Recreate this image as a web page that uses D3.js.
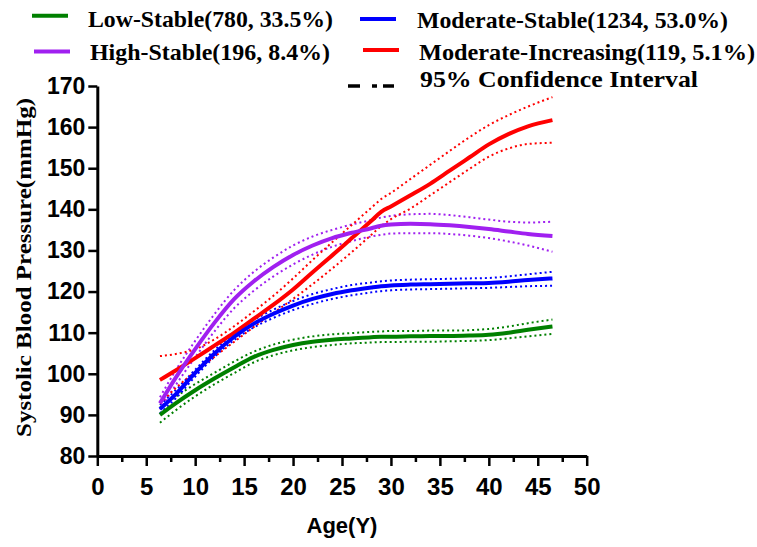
<!DOCTYPE html>
<html><head><meta charset="utf-8">
<script src="https://cdn.jsdelivr.net/npm/d3@7"></script>
<style>body{margin:0;background:#fff}</style>
</head><body><svg id="c" width="757" height="547"></svg>
<script>
// ---- data ----
const ages = [6.4, 8, 10, 12, 14, 16, 18, 20, 22, 24, 26, 28, 29, 30, 32, 34, 36, 38, 40, 42, 44, 46.5];

const lowStable      = [90.0, 92.8, 96.0, 98.9, 101.6, 104.1, 105.8, 107.0, 107.8, 108.3, 108.6, 108.9, 109.0, 109.0, 109.1, 109.2, 109.2, 109.3, 109.5, 110.0, 110.7, 111.5];
const lowStableUpper = [91.8, 94.4, 97.5, 100.3, 103.0, 105.4, 107.1, 108.3, 109.1, 109.6, 109.9, 110.2, 110.3, 110.4, 110.4, 110.5, 110.5, 110.6, 110.9, 111.5, 112.3, 113.2];
const lowStableLower = [88.1, 91.1, 94.5, 97.5, 100.2, 102.8, 104.5, 105.7, 106.5, 107.0, 107.4, 107.6, 107.7, 107.7, 107.8, 107.8, 107.9, 108.0, 108.2, 108.6, 109.1, 109.7];

const modStable      = [91.4, 95.0, 100.2, 105.0, 109.0, 112.2, 114.6, 116.6, 118.2, 119.4, 120.3, 121.0, 121.3, 121.5, 121.7, 121.8, 121.9, 122.0, 122.1, 122.4, 122.8, 123.2];
const modStableUpper = [92.4, 96.0, 101.0, 105.8, 109.8, 113.1, 115.6, 117.7, 119.4, 120.6, 121.6, 122.2, 122.5, 122.7, 122.9, 123.0, 123.1, 123.2, 123.3, 123.7, 124.2, 124.8];
const modStableLower = [90.4, 94.0, 99.3, 104.2, 108.2, 111.3, 113.6, 115.5, 117.0, 118.2, 119.1, 119.8, 120.1, 120.3, 120.5, 120.6, 120.7, 120.8, 120.9, 121.1, 121.3, 121.4];

const highStable      = [92.8, 99.0, 106.0, 112.5, 118.2, 122.5, 126.0, 128.9, 131.2, 133.0, 134.3, 135.4, 136.0, 136.3, 136.5, 136.4, 136.1, 135.7, 135.2, 134.6, 134.0, 133.5];
const highStableUpper = [94.3, 100.8, 108.0, 114.6, 120.4, 124.8, 128.3, 131.2, 133.4, 135.0, 136.3, 137.4, 138.0, 138.4, 138.8, 138.9, 138.6, 138.1, 137.5, 137.0, 136.8, 137.0];
const highStableLower = [91.3, 97.2, 104.0, 110.4, 116.0, 120.2, 123.7, 126.6, 129.0, 130.9, 132.3, 133.4, 133.8, 134.1, 134.2, 134.2, 134.0, 133.6, 133.0, 132.2, 131.2, 129.7];

const modIncreasing      = [98.5, 100.8, 103.8, 106.9, 110.0, 113.4, 116.8, 120.5, 124.7, 128.8, 133.0, 137.2, 139.4, 140.7, 143.4, 146.2, 149.4, 152.6, 155.8, 158.3, 160.2, 161.7];
const modIncreasingUpper = [104.3, 104.8, 106.0, 108.4, 111.6, 115.2, 119.0, 123.2, 127.7, 132.0, 136.2, 140.4, 142.5, 144.0, 147.4, 150.8, 154.2, 157.5, 160.5, 162.9, 165.0, 167.3];
const modIncreasingLower = [92.8, 96.5, 100.5, 104.2, 107.8, 111.4, 114.8, 118.2, 121.8, 125.6, 129.6, 133.8, 135.9, 137.6, 140.2, 143.4, 146.6, 149.8, 152.8, 154.8, 155.9, 156.2];

const xTicks = [0, 5, 10, 15, 20, 25, 30, 35, 40, 45, 50];
const xMinorTicks = [2.5, 7.5, 12.5, 17.5, 22.5, 27.5, 32.5, 37.5, 42.5, 47.5];
const yTicks = [80, 90, 100, 110, 120, 130, 140, 150, 160, 170];

const seriesNames = ["Low-Stable(780, 33.5%)", "Moderate-Stable(1234, 53.0%)", "High-Stable(196, 8.4%)", "Moderate-Increasing(119, 5.1%)"];
const ciLabel = "95% Confidence Interval";
const xTitle = "Age(Y)";
const yTitle = "Systolic Blood Pressure(mmHg)";

// ---- drawing ----
const svg = d3.select("#c");
svg.append("rect").attr("width",757).attr("height",547).attr("fill","#fff");

const x = d3.scaleLinear().domain([0, 50]).range([97.3, 586.7]);
const y = d3.scaleLinear().domain([80, 170]).range([456, 86]);

const colors = ["#008000", "#0000FF", "#A020F0", "#FF0000"];
const series = [
  {name: seriesNames[0], main: lowStable, up: lowStableUpper, lo: lowStableLower, color: colors[0]},
  {name: seriesNames[1], main: modStable, up: modStableUpper, lo: modStableLower, color: colors[1]},
  {name: seriesNames[2], main: highStable, up: highStableUpper, lo: highStableLower, color: colors[2]},
  {name: seriesNames[3], main: modIncreasing, up: modIncreasingUpper, lo: modIncreasingLower, color: colors[3]}
];

const line = d3.line().x(d => x(d[0])).y(d => y(d[1])).curve(d3.curveMonotoneX);
const pairs = arr => ages.map((a, i) => [a, arr[i]]);

// axes
const sansFont = "'Liberation Sans', Arial, sans-serif";
const serifFont = "'Liberation Serif', 'Times New Roman', serif";

const yAxis = svg.append("g").attr("transform", "translate(97.3,0)")
  .call(d3.axisLeft(y).tickValues(yTicks).tickSize(9).tickPadding(3).tickSizeOuter(0));
yAxis.select(".domain").attr("stroke", "#000").attr("stroke-width", 3);
yAxis.selectAll(".tick line").attr("stroke", "#000").attr("stroke-width", 2.5);
yAxis.selectAll(".tick text").attr("font-family", sansFont).attr("font-weight", "bold")
  .attr("font-size", 23).attr("fill", "#000");

const xAxis = svg.append("g").attr("transform", "translate(0,456)")
  .call(d3.axisBottom(x).tickValues(xTicks).tickSize(10).tickPadding(12).tickSizeOuter(0));
xAxis.select(".domain").attr("stroke", "#000").attr("stroke-width", 3);
xAxis.selectAll(".tick line").attr("stroke", "#000").attr("stroke-width", 2.5);
xAxis.selectAll(".tick text").attr("font-family", sansFont).attr("font-weight", "bold")
  .attr("font-size", 24).attr("fill", "#000");

const xMinor = svg.append("g").attr("transform", "translate(0,456)")
  .call(d3.axisBottom(x).tickValues(xMinorTicks).tickSize(6).tickFormat(""));
xMinor.select(".domain").remove();
xMinor.selectAll(".tick line").attr("stroke", "#000").attr("stroke-width", 2.5);

svg.append("text").attr("x", x(25)).attr("y", 533).attr("text-anchor", "middle")
  .attr("font-family", sansFont).attr("font-weight", "bold").attr("font-size", 22)
  .text(xTitle);

svg.append("text").attr("transform", "translate(31,267.5) rotate(-90)").attr("text-anchor", "middle")
  .attr("font-family", serifFont).attr("font-weight", "bold").attr("font-size", 22)
  .attr("textLength", 339).attr("lengthAdjust", "spacingAndGlyphs")
  .text(yTitle);

// series
const plot = svg.append("g");
series.forEach(s => {
  [s.up, s.lo].forEach(arr => {
    plot.append("path").datum(pairs(arr)).attr("d", line)
      .attr("fill", "none").attr("stroke", s.color).attr("stroke-width", 2)
      .attr("stroke-dasharray", "2,3");
  });
});
[3, 1, 2, 0].forEach(i => {
  const s = series[i];
  plot.append("path").datum(pairs(s.main)).attr("d", line)
    .attr("fill", "none").attr("stroke", s.color).attr("stroke-width", 4);
});

// legend
const legendItems = [
  {s: series[0], lx: 32, ly: 15.7, tx: 88, ty: 27, w: 245},
  {s: series[1], lx: 360, ly: 19, tx: 417, ty: 28, w: 311},
  {s: series[2], lx: 34, ly: 51.5, tx: 90, ty: 60, w: 240},
  {s: series[3], lx: 363, ly: 50, tx: 419, ty: 60, w: 336}
];
legendItems.forEach(it => {
  svg.append("line").attr("x1", it.lx).attr("x2", it.lx + 36).attr("y1", it.ly).attr("y2", it.ly)
    .attr("stroke", it.s.color).attr("stroke-width", 4);
  svg.append("text").attr("x", it.tx).attr("y", it.ty)
    .attr("font-family", serifFont).attr("font-weight", "bold").attr("font-size", 24)
    .attr("textLength", it.w).attr("lengthAdjust", "spacingAndGlyphs")
    .text(it.s.name);
});
// CI legend marker "- . -"
[[348, 360], [372, 377], [383, 394]].forEach(seg => {
  svg.append("line").attr("x1", seg[0]).attr("x2", seg[1]).attr("y1", 86).attr("y2", 86)
    .attr("stroke", "#000").attr("stroke-width", 3.5);
});
svg.append("text").attr("x", 420).attr("y", 87)
  .attr("font-family", serifFont).attr("font-weight", "bold").attr("font-size", 24)
  .attr("textLength", 278).attr("lengthAdjust", "spacingAndGlyphs")
  .text(ciLabel);
</script></body></html>
